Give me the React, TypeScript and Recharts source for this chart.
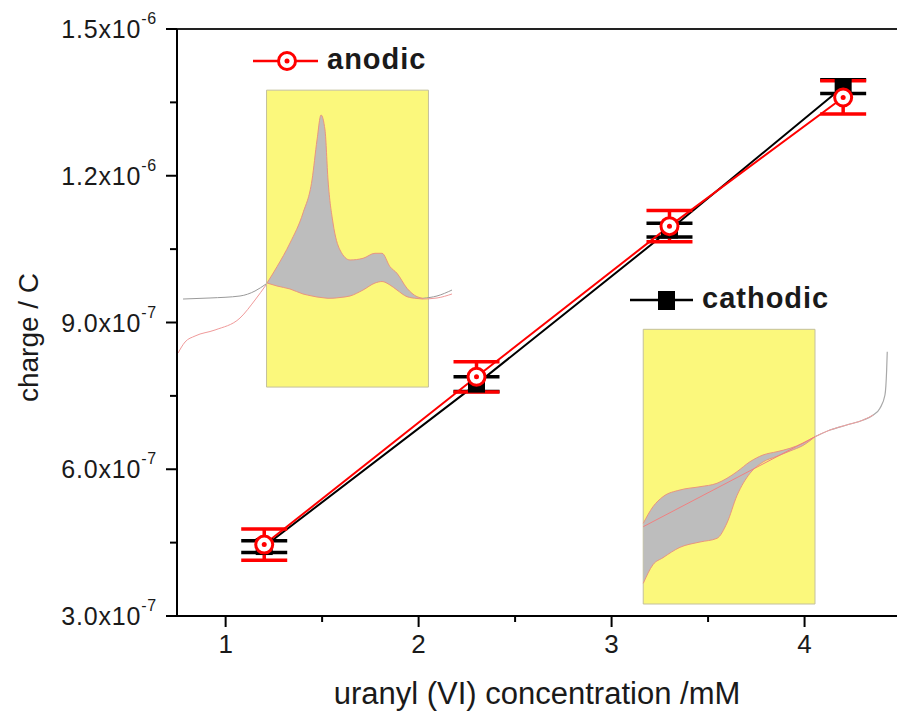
import React from 'react';
import {
  ComposedChart,
  Line,
  Area,
  XAxis,
  YAxis,
  ErrorBar,
  ReferenceArea,
  ReferenceLine,
  Legend,
} from 'recharts';

// ---------------- main data ----------------
const concentration = [1.2, 2.3, 3.3, 4.2];
const anodicCharge = [4.46e-7, 7.89e-7, 1.097e-6, 1.36e-6];
const anodicError = [3.2e-8, 3.1e-8, 3.2e-8, 3.4e-8];
const cathodicCharge = [4.42e-7, 7.74e-7, 1.089e-6, 1.382e-6];
const cathodicError = [1.2e-8, 1.5e-8, 1.4e-8, 1.4e-8];
const seriesNames = ['anodic', 'cathodic'];

const xMajorTicks = [1, 2, 3, 4];
const xAllTicks = [1, 1.5, 2, 2.5, 3, 3.5, 4];
const yMajorTicks = [3e-7, 6e-7, 9e-7, 1.2e-6, 1.5e-6];
const yAllTicks = [3e-7, 4.5e-7, 6e-7, 7.5e-7, 9e-7, 1.05e-6, 1.2e-6, 1.35e-6, 1.5e-6];
const xDomain = [0.748, 4.479];
const yDomain = [3e-7, 1.5e-6];

// ---------------- inset 1 (anodic peak) ----------------
const inset1Box = [1.212, 2.051, 7.68e-7, 1.375e-6];
const inset1X = [1.2145, 1.2663, 1.3337, 1.401, 1.4477, 1.4736, 1.4943, 1.515, 1.5306, 1.5565, 1.5927, 1.6446, 1.7119, 1.7741, 1.8104, 1.8518, 1.8881, 1.9399, 1.9917, 2.0228];
const inset1Lower = [9.807e-7, 9.746e-7, 9.685e-7, 9.583e-7, 9.542e-7, 9.521e-7, 9.511e-7, 9.501e-7, 9.495e-7, 9.497e-7, 9.511e-7, 9.542e-7, 9.664e-7, 9.807e-7, 9.838e-7, 9.767e-7, 9.664e-7, 9.528e-7, 9.491e-7, 9.48e-7];
const inset1Upper = [9.807e-7, 1.0141e-6, 1.0625e-6, 1.1239e-6, 1.1913e-6, 1.2731e-6, 1.3242e-6, 1.2935e-6, 1.1913e-6, 1.1034e-6, 1.0482e-6, 1.0278e-6, 1.0312e-6, 1.0415e-6, 1.0415e-6, 1.0141e-6, 1.0006e-6, 9.699e-7, 9.528e-7, 9.495e-7];
const inset1LeftGrayX = [0.7793, 0.9192, 1.0746, 1.1523, 1.2093];
const inset1LeftGrayY = [9.48e-7, 9.501e-7, 9.542e-7, 9.644e-7, 9.787e-7];
const inset1LeftPinkX = [0.7534, 0.7896, 0.8415, 0.9451, 1.0746, 1.1523, 1.2093];
const inset1LeftPinkY = [8.376e-7, 8.601e-7, 8.724e-7, 8.847e-7, 9.092e-7, 9.46e-7, 9.767e-7];
const inset1RightGrayX = [2.0228, 2.0953, 2.1731];
const inset1RightGrayY = [9.495e-7, 9.542e-7, 9.664e-7];
const inset1RightPinkX = [2.0228, 2.0953, 2.1731];
const inset1RightPinkY = [9.48e-7, 9.501e-7, 9.583e-7];

// ---------------- inset 2 (cathodic wave) ----------------
const inset2Box = [3.164, 4.054, 3.245e-7, 8.861e-7];
const inset2X = [3.1642, 3.2145, 3.2663, 3.3544, 3.458, 3.5461, 3.5979, 3.6497, 3.7171, 3.7845, 3.857, 3.9244, 3.9917, 4.0539];
const inset2Lower = [3.668e-7, 4.049e-7, 4.192e-7, 4.404e-7, 4.513e-7, 4.588e-7, 4.901e-7, 5.461e-7, 5.917e-7, 6.148e-7, 6.265e-7, 6.373e-7, 6.486e-7, 6.665e-7];
const inset2Upper = [4.895e-7, 5.234e-7, 5.439e-7, 5.576e-7, 5.643e-7, 5.713e-7, 5.815e-7, 5.95e-7, 6.154e-7, 6.291e-7, 6.359e-7, 6.428e-7, 6.531e-7, 6.665e-7];
const inset2DiagX = [3.1642, 4.0539];
const inset2DiagY = [4.826e-7, 6.665e-7];
const inset2TailX = [4.0539, 4.1316, 4.2181, 4.3041, 4.356, 4.3907, 4.4166, 4.4254, 4.4285];
const inset2TailY = [6.665e-7, 6.802e-7, 6.905e-7, 7.007e-7, 7.109e-7, 7.246e-7, 7.518e-7, 8.029e-7, 8.403e-7];
const inset2TailPinkX = [4.0539, 4.1316, 4.2181, 4.3041, 4.356];
const inset2TailPinkY = [6.665e-7, 6.802e-7, 6.905e-7, 7.007e-7, 7.109e-7];

// ---------------- derived tables ----------------
const anodicData = concentration.map((x, i) => ({ x, y: anodicCharge[i], err: anodicError[i] }));
const cathodicData = concentration.map((x, i) => ({ x, y: cathodicCharge[i], err: cathodicError[i] }));
const inset1Band = inset1X.map((x, i) => ({ x, band: [inset1Lower[i], inset1Upper[i]] }));
const inset2Band = inset2X.map((x, i) => ({ x, band: [inset2Lower[i], inset2Upper[i]] }));
const toPts = (xs: number[], ys: number[]) => xs.map((x, i) => ({ x, y: ys[i] }));

const FONT = '"Liberation Sans", Arial, Helvetica, sans-serif';
const TXT = '#1a1a1a';
const RED = '#ff0000';

const XTick = (props: any) => {
  const { x, y, payload } = props;
  const v = payload.value;
  const major = xMajorTicks.some((t) => Math.abs(t - v) < 1e-9);
  return (
    <g>
      <line x1={x} x2={x} y1={y} y2={y + (major ? 11 : 6)} stroke="#000" strokeWidth={2} />
      {major && (
        <text x={x} y={y + 37} textAnchor="middle" fontSize={26} fontFamily={FONT} fill={TXT}>
          {String(v)}
        </text>
      )}
    </g>
  );
};

const YTick = (props: any) => {
  const { x, y, payload } = props;
  const v = payload.value;
  const major = yMajorTicks.some((t) => Math.abs(t - v) < 1e-12);
  let mant = '';
  let exp = 0;
  if (major) {
    exp = Math.floor(Math.log10(v) + 1e-9);
    mant = (v / Math.pow(10, exp)).toFixed(1);
  }
  return (
    <g>
      <line x1={x} x2={x - (major ? 11 : 7)} y1={y} y2={y} stroke="#000" strokeWidth={2} />
      {major && (
        <text x={x - 20} y={y + 9} textAnchor="end" fontSize={25} fontFamily={FONT} fill={TXT} letterSpacing={0.8}>
          <tspan>{mant + 'x10'}</tspan>
          <tspan dy={-14} fontSize={16}>{String(exp)}</tspan>
        </text>
      )}
    </g>
  );
};

const YLabel = (props: any) => {
  const vb = props.viewBox || { x: 0, y: 29, width: 177, height: 587 };
  const cx = vb.x + 28;
  const cy = vb.y + vb.height / 2 + 15;
  return (
    <text
      transform={`translate(${cx}, ${cy}) rotate(-90)`}
      textAnchor="middle"
      dominantBaseline="central"
      fontSize={28}
      fontFamily={FONT}
      fill={TXT}
    >
      charge / C
    </text>
  );
};

const XLabel = (props: any) => {
  const vb = props.viewBox || { x: 177, y: 616, width: 720, height: 110 };
  return (
    <text x={vb.x + vb.width / 2} y={vb.y + 88} textAnchor="middle" fontSize={31} fontFamily={FONT} fill={TXT}>
      uranyl (VI) concentration /mM
    </text>
  );
};

const AnodicDot = (props: any) => {
  const { cx, cy } = props;
  if (cx == null || cy == null) return null;
  return (
    <g>
      <circle cx={cx} cy={cy} r={8.5} fill="#fff" stroke={RED} strokeWidth={3} />
      <circle cx={cx} cy={cy} r={2.5} fill={RED} />
    </g>
  );
};

const CathodicDot = (props: any) => {
  const { cx, cy } = props;
  if (cx == null || cy == null) return null;
  return <rect x={cx - 8.5} y={cy - 8.5} width={17} height={17} fill="#000" />;
};

const LegendContent = () => (
  <svg width={899} height={330} style={{ position: 'absolute', left: 0, top: 0, overflow: 'visible' }}>
    <g>
      <line x1={253} x2={318} y1={61} y2={61} stroke={RED} strokeWidth={2.5} />
      <circle cx={287} cy={61} r={8.5} fill="#fff" stroke={RED} strokeWidth={3} />
      <circle cx={287} cy={61} r={2.5} fill={RED} />
      <text x={327} y={69} fontSize={29} fontWeight="bold" fontFamily={FONT} fill={TXT} letterSpacing={1}>
        {seriesNames[0]}
      </text>
    </g>
    <g>
      <line x1={630} x2={693} y1={300} y2={300} stroke="#000" strokeWidth={2.5} />
      <rect x={658} y={291} width={17} height={19} fill="#000" />
      <text x={702} y={308} fontSize={29} fontWeight="bold" fontFamily={FONT} fill={TXT} letterSpacing={1}>
        {seriesNames[1]}
      </text>
    </g>
  </svg>
);

export default function App() {
  return (
    <div style={{ position: 'absolute', left: 0, top: 0, width: 899, height: 726, background: '#fff' }}>
      <ComposedChart width={899} height={726} margin={{ top: 29, right: 2, left: 0, bottom: 0 }}>
        <XAxis
          type="number"
          dataKey="x"
          domain={xDomain}
          ticks={xAllTicks}
          allowDataOverflow
          height={110}
          tickSize={0}
          tickMargin={0}
          tickLine={false}
          tick={<XTick />}
          axisLine={{ stroke: '#000', strokeWidth: 2 }}
          label={XLabel}
        />
        <YAxis
          type="number"
          dataKey="y"
          domain={yDomain}
          ticks={yAllTicks}
          allowDataOverflow
          width={177}
          tickSize={0}
          tickMargin={0}
          tickLine={false}
          tick={<YTick />}
          axisLine={{ stroke: '#000', strokeWidth: 2 }}
          label={YLabel}
        />
        <ReferenceLine y={1.5e-6} stroke="#222" strokeWidth={2} ifOverflow="extendDomain" />

        <ReferenceArea
          x1={inset1Box[0]}
          x2={inset1Box[1]}
          y1={inset1Box[2]}
          y2={inset1Box[3]}
          fill="#fbf87c"
          fillOpacity={1}
          stroke="#c4c09c"
          strokeWidth={1}
        />
        <ReferenceArea
          x1={inset2Box[0]}
          x2={inset2Box[1]}
          y1={inset2Box[2]}
          y2={inset2Box[3]}
          fill="#fbf87c"
          fillOpacity={1}
          stroke="#c4c09c"
          strokeWidth={1}
        />

        <Area
          data={inset1Band}
          dataKey="band"
          type="monotone"
          fill="#bdbdbd"
          fillOpacity={1}
          stroke="#e8957f"
          strokeWidth={1}
          isAnimationActive={false}
          dot={false}
          activeDot={false}
        />
        <Area
          data={inset2Band}
          dataKey="band"
          type="monotone"
          fill="#bdbdbd"
          fillOpacity={1}
          stroke="#e8957f"
          strokeWidth={1}
          isAnimationActive={false}
          dot={false}
          activeDot={false}
        />

        <Line data={toPts(inset1LeftGrayX, inset1LeftGrayY)} dataKey="y" type="monotone" stroke="#9a9a9a" strokeWidth={1} dot={false} activeDot={false} isAnimationActive={false} />
        <Line data={toPts(inset1LeftPinkX, inset1LeftPinkY)} dataKey="y" type="monotone" stroke="#f09a9a" strokeWidth={1} dot={false} activeDot={false} isAnimationActive={false} />
        <Line data={toPts(inset1RightGrayX, inset1RightGrayY)} dataKey="y" type="monotone" stroke="#9a9a9a" strokeWidth={1} dot={false} activeDot={false} isAnimationActive={false} />
        <Line data={toPts(inset1RightPinkX, inset1RightPinkY)} dataKey="y" type="monotone" stroke="#f09a9a" strokeWidth={1} dot={false} activeDot={false} isAnimationActive={false} />
        <Line data={toPts(inset2DiagX, inset2DiagY)} dataKey="y" type="linear" stroke="#f08080" strokeWidth={1} dot={false} activeDot={false} isAnimationActive={false} />
        <Line data={toPts(inset2TailX, inset2TailY)} dataKey="y" type="monotone" stroke="#a8a8a8" strokeWidth={1.2} dot={false} activeDot={false} isAnimationActive={false} />
        <Line data={toPts(inset2TailPinkX, inset2TailPinkY)} dataKey="y" type="monotone" stroke="#f0a0a0" strokeWidth={1} dot={false} activeDot={false} isAnimationActive={false} />

        <Line
          data={cathodicData}
          dataKey="y"
          name={seriesNames[1]}
          type="linear"
          stroke="#000"
          strokeWidth={2}
          dot={<CathodicDot />}
          activeDot={false}
          isAnimationActive={false}
        >
          <ErrorBar dataKey="err" direction="y" width={23} stroke="#000" strokeWidth={3.5} isAnimationActive={false} />
        </Line>
        <Line
          data={anodicData}
          dataKey="y"
          name={seriesNames[0]}
          type="linear"
          stroke={RED}
          strokeWidth={2}
          dot={<AnodicDot />}
          activeDot={false}
          isAnimationActive={false}
        >
          <ErrorBar dataKey="err" direction="y" width={23} stroke={RED} strokeWidth={3.5} isAnimationActive={false} />
        </Line>

        <Legend
          verticalAlign="middle"
          align="center"
          layout="horizontal"
          wrapperStyle={{ position: 'absolute', left: 0, top: 0, width: 899, height: 0, pointerEvents: 'none' }}
          content={LegendContent}
        />
      </ComposedChart>
    </div>
  );
}
